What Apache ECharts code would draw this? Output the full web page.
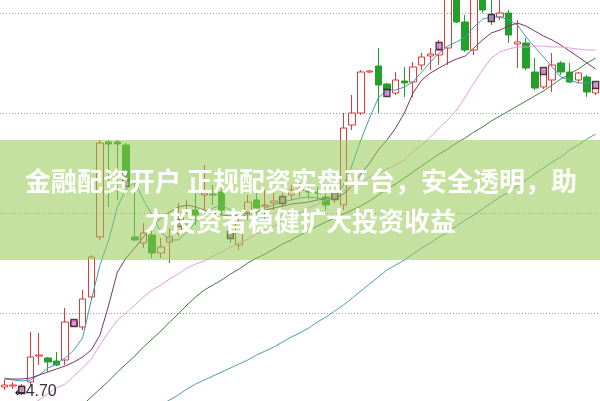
<!DOCTYPE html>
<html><head><meta charset="utf-8">
<script src="https://cdn.jsdelivr.net/npm/echarts@6/dist/echarts.min.js"></script>
<style>html,body{margin:0;padding:0;background:#fff}#c{width:600px;height:401px}</style>
</head><body><div id="c"></div>
<script>
const categories = ['1','2','3','4','5','6','7','8','9','10','11','12','13','14','15','16','17','18','19','20','21','22','23','24','25','26','27','28','29','30','31','32','33','34','35','36','37','38','39','40','41','42','43','44','45','46','47','48','49','50','51','52','53','54','55','56','57','58','59','60','61','62','63','64','65','66','67','68','69'];
const opens = [4.78,4.79,4.76,4.83,5.09,5.07,5.04,5.05,5.39,5.38, 5.68,6.28,7.23,7.23,7.20,6.28,6.22,6.30,6.12,6.23, 6.32,6.43,6.55,6.70,6.71,6.73,6.33,6.20,6.53,6.65, 6.59,6.62,6.62,6.70,6.75,6.74,6.73,6.68,6.66,6.60, 7.40,7.52,7.93,7.99,7.81,7.72,7.84,7.83,8.00,8.09, 8.10,8.17,8.80,8.43,8.15,8.70,8.50,8.48,8.52,8.21, 8.22,7.93,7.78,7.85,8.02,7.93,7.85,7.88,7.72];
const closes = [4.80,4.80,4.79,5.08,5.10,5.03,5.00,5.43,5.44,5.66, 6.08,7.22,7.21,7.21,6.83,6.25,6.32,6.12,6.18,6.28, 6.42,6.53,6.50,6.72,6.70,6.55,6.27,6.43,6.63,6.57, 6.60,6.64,6.67,6.75,6.76,6.73,6.72,6.60,6.70,7.37, 7.52,7.93,7.94,7.80,7.75,7.85,7.82,7.98,8.08,8.11, 8.15,8.80,8.43,8.15,8.75,8.55,8.45,8.52,8.30,8.23, 7.97,7.77,7.93,8.00,7.93,7.83,7.92,7.73,7.77];
const lows = [4.75,4.76,4.70,4.80,5.00,4.93,4.99,5.00,5.38,5.35, 5.65,6.25,6.58,6.65,6.80,6.24,6.17,6.07,6.07,6.02, 6.29,6.40,6.40,6.55,6.60,6.50,6.22,6.15,6.45,6.50, 6.45,6.55,6.58,6.65,6.68,6.66,6.65,6.55,6.62,6.55, 7.35,7.50,7.92,7.52,7.68,7.70,7.68,7.68,7.95,7.95, 8.00,8.00,8.42,8.13,8.10,8.52,8.40,8.45,8.22,7.97, 7.95,7.75,7.76,7.73,7.90,7.82,7.82,7.68,7.70];
const highs = [4.85,4.83,4.81,5.33,5.32,5.08,5.13,5.57,5.45,5.75, 6.10,7.25,7.25,7.25,7.22,6.85,6.42,6.35,6.27,6.37, 6.62,6.65,6.72,7.00,6.80,6.78,6.40,6.50,6.70,6.72, 6.75,6.72,6.72,6.80,6.82,6.80,6.78,6.72,6.74,7.52, 7.70,7.95,7.95,8.17,7.82,7.93,7.98,8.03,8.12,8.17, 8.25,8.90,8.95,8.50,8.85,8.80,8.70,8.68,8.55,8.45, 8.27,8.07,7.95,8.12,8.04,8.02,7.93,7.90,7.80];
const ma5 = [4.87,4.85,4.84,4.85,4.90,4.97,5.01,5.07,5.15,5.27, 5.65,6.00,6.25,6.58,6.76,6.83,6.65,6.50,6.33,6.25, 6.25,6.33,6.43,6.50,6.57,6.60,6.55,6.50,6.50,6.53, 6.57,6.60,6.63,6.65,6.67,6.68,6.67,6.66,6.67,6.80, 7.00,7.25,7.47,7.67,7.75,7.75,7.78,7.83,7.93,8.03, 8.12,8.19,8.23,8.28,8.38,8.46,8.48,8.48,8.45,8.40, 8.28,8.18,8.08,7.98,7.88,7.85,7.82,7.82,7.82];
const ma10 = [4.86,4.86,4.86,4.87,4.90,4.93,4.96,4.99,5.03,5.08, 5.15,5.30,5.60,5.93,6.07,6.17,6.28,6.39,6.47,6.53, 6.58,6.60,6.58,6.55,6.52,6.50,6.49,6.50,6.52,6.53, 6.55,6.57,6.59,6.61,6.62,6.63,6.65,6.66,6.67,6.71, 6.79,6.91,7.02,7.15,7.25,7.37,7.52,7.72,7.85,7.92, 7.97,8.02,8.06,8.09,8.17,8.25,8.32,8.35,8.39,8.42, 8.39,8.34,8.29,8.25,8.20,8.14,8.08,8.02,7.96];
const ma20 = [4.45,4.50,4.55,4.60,4.65,4.71,4.77,4.81,4.89,4.97, 5.06,5.20,5.33,5.45,5.52,5.60,5.68,5.75,5.80,5.86, 5.91,5.97,6.01,6.04,6.09,6.13,6.18,6.22,6.26,6.31, 6.35,6.39,6.44,6.48,6.52,6.57,6.61,6.65,6.70,6.74, 6.79,6.83,6.88,6.92,6.96,7.00,7.05,7.13,7.20,7.28, 7.37,7.45,7.55,7.68,7.82,7.95,8.07,8.13,8.16,8.18, 8.18,8.19,8.19,8.18,8.18,8.17,8.16,8.15,8.15];
const ma60 = [null,null,null,null,null,null,null,null,null,4.60, 4.68,4.76,4.84,4.93,5.01,5.09,5.18,5.26,5.34,5.43, 5.51,5.60,5.68,5.75,5.80,5.85,5.91,5.96,6.02,6.07, 6.11,6.16,6.21,6.25,6.30,6.34,6.39,6.43,6.47,6.51, 6.55,6.59,6.64,6.70,6.76,6.81,6.87,6.93,6.99,7.05, 7.11,7.16,7.22,7.27,7.33,7.38,7.44,7.49,7.54,7.59, 7.64,7.69,7.74,7.80,7.86,7.91,7.96,8.02,8.07];
const ma120 = [null,null,null,null,null,null,null,null,null,null, null,null,null,null,null,null,null,null,4.60,4.65, 4.70,4.76,4.81,4.85,4.89,4.93,4.97,5.01,5.05,5.10, 5.14,5.18,5.23,5.28,5.32,5.37,5.43,5.48,5.54,5.60, 5.67,5.74,5.81,5.88,5.95,6.00,6.05,6.11,6.17,6.22, 6.28,6.33,6.39,6.45,6.50,6.56,6.62,6.68,6.73,6.79, 6.85,6.91,6.97,7.03,7.08,7.15,7.20,7.26,7.31];
const markerIdx = [2,8,14,20,26,32,38,44,50,56,62,68];
const markerVal = [4.75,5.42,6.82,6.42,6.30,6.65,6.69,7.72,8.19,8.47,7.94,7.80];
const lowLabel = '4.70';
const bannerLine1 = '金融配资开户 正规配资实盘平台，安全透明，助';
const bannerLine2 = '力投资者稳健扩大投资收益';

const chart = echarts.init(document.getElementById('c'), null, {renderer: 'canvas'});
const candleData = opens.map((o, i) => [o, closes[i], lows[i], highs[i]]);
const markerData = markerIdx.map((k, i) => [k, markerVal[i]]);
const lowIdx = lows.indexOf(Math.min.apply(null, lows));

function maLine(name, data, color) {
  return {name: name, type: 'line', data: data, xAxisIndex: 0, yAxisIndex: 0, showSymbol: false, symbol: 'none',
    lineStyle: {width: 1, color: color}, itemStyle: {color: color}, connectNulls: false, z: 3, silent: true};
}

chart.setOption({
  animation: false,
  backgroundColor: '#fff',
  grid: [
    {left: -1.625, right: -2.125, top: 0, bottom: 0},
    {left: 0, right: 0, top: 13, height: 300}
  ],
  xAxis: [
    {type: 'category', data: categories, gridIndex: 0, show: false, boundaryGap: true},
    {type: 'value', gridIndex: 1, show: false, min: 0, max: 1}
  ],
  yAxis: [
    {type: 'value', gridIndex: 0, min: 4.64, max: 8.65, show: false},
    {type: 'value', gridIndex: 1, min: 0, max: 3, interval: 1,
      axisLine: {show: false}, axisTick: {show: false}, axisLabel: {show: false},
      splitLine: {show: true, lineStyle: {color: '#9a9a9a', type: [1, 2], width: 1}}}
  ],
  series: [
    {type: 'candlestick', data: candleData, xAxisIndex: 0, yAxisIndex: 0, barWidth: 7, z: 2,
      itemStyle: {color: 'rgba(255,255,255,0)', color0: '#22a02a', borderColor: '#e0393b', borderColor0: '#22a02a', borderWidth: 1},
      markPoint: {symbol: 'circle', symbolSize: 0, silent: true,
        data: [{coord: [lowIdx, lows[lowIdx]]}],
        label: {show: true, position: 'right', offset: [-12, -3], formatter: '{a|←}{b|' + lowLabel + '}',
          rich: {a: {fontSize: 13, color: '#111', fontFamily: 'DejaVu Sans', padding: [4, 0, 0, 0]},
                 b: {fontSize: 16, color: '#333', fontFamily: 'Liberation Sans'}}}}
    },
    maLine('MA5', ma5, '#3a9fb3'),
    maLine('MA10', ma10, '#7a356c'),
    maLine('MA20', ma20, '#e79be6'),
    maLine('MA60', ma60, '#3f7d3f'),
    maLine('MA120', ma120, '#4f9cb8'),
    {type: 'scatter', data: markerData, xAxisIndex: 0, yAxisIndex: 0, symbol: 'rect', symbolSize: [6, 7], z: 4,
      itemStyle: {color: '#d47ed4', borderColor: '#1a1a1a', borderWidth: 1.5}}
  ],
  graphic: [
    {type: 'rect', shape: {x: 0, y: 140, width: 600, height: 120}, style: {fill: 'rgba(150,200,80,0.55)'}, z: 100},
    {type: 'text', x: 301, y: 181, z: 101, style: {text: bannerLine1, fill: '#fff', font: 'bold 26px "Noto Sans CJK SC"', textAlign: 'center', textVerticalAlign: 'middle', align: 'center', verticalAlign: 'middle'}},
    {type: 'text', x: 300, y: 221, z: 101, style: {text: bannerLine2, fill: '#fff', font: 'bold 26px "Noto Sans CJK SC"', textAlign: 'center', textVerticalAlign: 'middle', align: 'center', verticalAlign: 'middle'}}
  ]
});
</script>
</body></html>
